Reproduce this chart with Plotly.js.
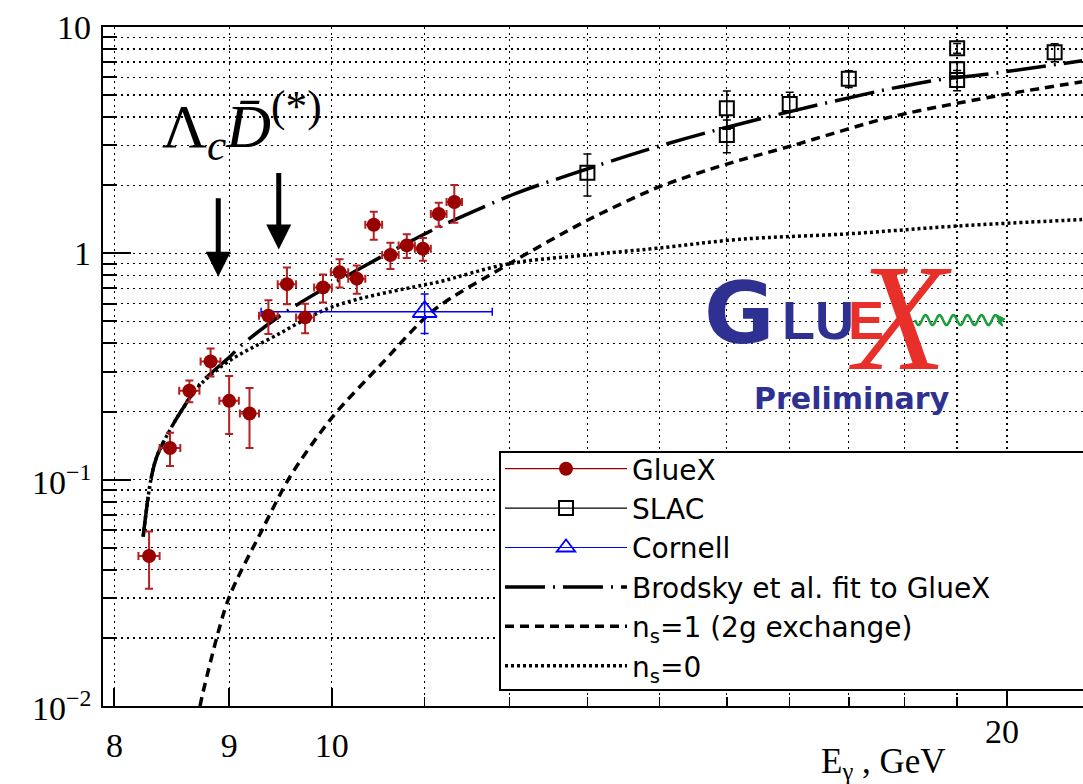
<!DOCTYPE html>
<html><head><meta charset="utf-8">
<script src="https://cdn.plot.ly/plotly-3.0.1.min.js"></script>
<style>html,body{margin:0;padding:0;background:#fff;overflow:hidden}#chart{width:1083px;height:784px}</style>
</head><body><div id="chart"></div>
<script>
// ---------- data ----------
const gluexE    = [8.29, 8.47, 8.64, 8.83, 9.00, 9.19, 9.37, 9.55, 9.73, 9.91, 10.08, 10.26, 10.44, 10.62, 10.80, 10.98, 11.16, 11.34];
const gluexXS   = [0.046, 0.138, 0.247, 0.333, 0.223, 0.196, 0.530, 0.731, 0.521, 0.707, 0.824, 0.773, 1.338, 0.983, 1.084, 1.048, 1.491, 1.685];
const gluexErrY = [0.013, 0.023, 0.027, 0.047, 0.064, 0.058, 0.090, 0.135, 0.078, 0.100, 0.117, 0.110, 0.190, 0.130, 0.130, 0.120, 0.180, 0.320];
const gluexErrX = [0.09, 0.09, 0.09, 0.09, 0.09, 0.09, 0.09, 0.09, 0.09, 0.09, 0.09, 0.09, 0.09, 0.09, 0.09, 0.09, 0.09, 0.09];

const slacE    = [13.0, 15.0, 15.0, 16.0, 17.0, 19.0, 19.0, 19.0, 21.0];
const slacXS   = [2.27, 4.37, 3.33, 4.57, 5.91, 8.05, 6.50, 5.83, 7.73];
const slacErrY = [0.48, 0.84, 0.55, 0.58, 0.50, 0.40, 0.50, 0.60, 0.70];

const cornellE       = [11.0];
const cornellXS      = [0.552];
const cornellErrY    = [0.11];
const cornellErrXlo  = [1.70];
const cornellErrXhi  = [0.79];

const brodskyE  = [8.24, 8.31, 8.36, 8.47, 8.56, 8.735, 9.006, 9.10, 9.51, 10.36, 11.0, 11.17, 12.08, 12.76, 13.95, 15.51, 18.34, 19.63, 21.6];
const brodskyXS = [0.056, 0.103, 0.128, 0.166, 0.198, 0.265, 0.349, 0.387, 0.540, 0.888, 1.217, 1.311, 1.84, 2.22, 2.95, 3.92, 5.69, 6.20, 7.09];

const ns1E  = [8.735, 8.76, 8.99, 9.31, 9.58, 10.01, 10.54, 11.10, 12.0, 13.0, 14.0, 15.0, 16.04, 17.78, 19.97, 21.6];
const ns1XS = [0.010, 0.0114, 0.0294, 0.060, 0.103, 0.19, 0.33, 0.56, 0.90, 1.40, 1.97, 2.48, 2.99, 4.02, 5.04, 5.73];

const ns0E  = [8.24, 8.31, 8.36, 8.47, 8.56, 8.735, 9.006, 9.42, 10.01, 10.98, 11.17, 12.0, 13.13, 13.95, 15.2, 17.0, 19.0, 21.6];
const ns0XS = [0.056, 0.103, 0.128, 0.166, 0.198, 0.262, 0.336, 0.428, 0.581, 0.724, 0.749, 0.90, 0.993, 1.052, 1.153, 1.22, 1.32, 1.41];

const arrowE   = [8.90, 9.47];
const arrowTip = [0.788, 1.041];

const xTickVals  = [8, 9, 10, 20];
const xTickText  = ['8', '9', '10', ''];
const xMinorVals = [11, 12, 13, 14, 15, 16, 17, 18, 19];
const yTickVals  = [0.01, 0.1, 1, 10];
const yTickText  = ['10<sup>\u22122</sup>', '10<sup>\u22121</sup>', '1', '10'];
const yMinorVals = [0.02,0.03,0.04,0.05,0.06,0.07,0.08,0.09,0.2,0.3,0.4,0.5,0.6,0.7,0.8,0.9,2,3,4,5,6,7,8,9];

// ---------- helpers ----------
const W = 1083, H = 784, ML = 103, MR = 0, MT = 27, MB = 78;
const PW = W - ML - MR, PH = H - MT - MB;
const px = v => (v - ML) / PW;           // pixel -> paper x
const py = v => (H - MB - v) / PH;       // pixel -> paper y
// points separated by gaps so that no connecting line is drawn, yet the legend shows a line
const sep = a => a.flatMap(v => [v, null]);
const sep0 = a => a.flatMap(v => [v, 0]);

const serif = 'Liberation Serif, Times New Roman, serif';
const sans = 'DejaVu Sans, Liberation Sans, Arial, sans-serif';
const RED = '#990000';

const traces = [
  { x: brodskyE, y: brodskyXS, mode: 'lines', name: 'Brodsky et al. fit to GlueX', legendrank: 4,
    line: { color: '#000', width: 3.5, dash: '40px,8px,2px,8px', shape: 'spline', smoothing: 1 } },
  { x: ns1E, y: ns1XS, mode: 'lines', name: 'n<sub>s</sub>=1 (2g exchange)', legendrank: 5,
    line: { color: '#000', width: 3.5, dash: '9px,6px', shape: 'spline', smoothing: 0.8 } },
  { x: ns0E, y: ns0XS, mode: 'lines', name: 'n<sub>s</sub>=0', legendrank: 6,
    line: { color: '#000', width: 3.5, dash: '3px,3px', shape: 'spline', smoothing: 1 } },
  { x: sep(cornellE), y: sep(cornellXS), mode: 'lines+markers', name: 'Cornell', legendrank: 3,
    line: { color: '#0000ff', width: 1.2 },
    marker: { symbol: 'triangle-up-open', size: 21, color: '#0000ff', line: { width: 1.8, color: '#0000ff' } },
    error_y: { type: 'data', array: sep0(cornellErrY), color: '#0000ff', thickness: 1.5, width: 4 },
    error_x: { type: 'data', symmetric: false, array: sep0(cornellErrXhi), arrayminus: sep0(cornellErrXlo), color: '#0000ff', thickness: 1.5, width: 4 } },
  { x: sep(slacE), y: sep(slacXS), mode: 'lines+markers', name: 'SLAC', legendrank: 2,
    line: { color: '#000', width: 1.2 },
    marker: { symbol: 'square-open', size: 14, color: '#000', line: { width: 2, color: '#000' } },
    error_y: { type: 'data', array: sep0(slacErrY), color: '#000', thickness: 1.5, width: 4 } },
  { x: sep(gluexE), y: sep(gluexXS), mode: 'lines+markers', name: 'GlueX', legendrank: 1,
    line: { color: RED, width: 1.2 },
    marker: { symbol: 'circle', size: 14, color: RED },
    error_y: { type: 'data', array: sep0(gluexErrY), color: '#b22222', thickness: 2, width: 4 },
    error_x: { type: 'data', array: sep0(gluexErrX), color: '#b22222', thickness: 2, width: 4 } }
];

// decorative wave of the logo
let wave = '';
for (let i = 0; i <= 88; i++) {
  const xx = 915 + i, yy = 320 + 5 * Math.sin(i / 14 * 2 * Math.PI);
  wave += (i === 0 ? 'M' : 'L') + px(xx).toFixed(5) + ',' + py(yy).toFixed(5);
}
const waveHead = 'M' + px(997).toFixed(5) + ',' + py(315).toFixed(5) + 'L' + px(1005).toFixed(5) + ',' + py(319).toFixed(5) +
                 'L' + px(999).toFixed(5) + ',' + py(324).toFixed(5) + 'Z';

const annotations = [
  // y tick labels
  ...yTickVals.map((v, i) => ({ xref: 'paper', yref: 'y', x: px(93), y: Math.log10(v), xanchor: 'right', yanchor: 'middle',
      showarrow: false, text: yTickText[i], font: { family: serif, size: 34, color: '#000' } })),
  // arrows
  ...arrowE.map((e, i) => ({ x: Math.log10(e), y: Math.log10(arrowTip[i]), xref: 'x', yref: 'y',
      text: '', showarrow: true, arrowhead: 2, arrowsize: 1, arrowwidth: 5, arrowcolor: '#000',
      ax: 0, ay: i === 0 ? -80 : -78 })),
  // label
  { xref: 'paper', yref: 'paper', x: px(160), y: py(125), xanchor: 'left', yanchor: 'middle', showarrow: false,
    text: '\u039B<sub><i>c</i></sub><i>D\u0304</i><sup>(*)</sup>', font: { family: serif, size: 62, color: '#000' } },
  // x tick label 20 (drawn higher, as in the reference)
  { xref: 'x', yref: 'paper', x: Math.log10(20), y: py(731), xanchor: 'center', yanchor: 'middle', xshift: -5, showarrow: false,
    text: '20', font: { family: serif, size: 34, color: '#000' } },
  // axis title
  { xref: 'paper', yref: 'paper', x: px(948), y: py(763), xanchor: 'right', yanchor: 'middle', showarrow: false,
    text: 'E<sub>\u03B3</sub> , GeV', font: { family: serif, size: 35, color: '#000' } },
  // logo
  { xref: 'paper', yref: 'paper', x: px(739), y: py(313), xanchor: 'center', yanchor: 'middle', showarrow: false,
    text: '<b>G</b>', font: { family: 'DejaVu Sans', size: 86, color: '#2e3192' } },
  { xref: 'paper', yref: 'paper', x: px(818), y: py(320), xanchor: 'center', yanchor: 'middle', showarrow: false,
    text: '<b>LU</b>', font: { family: 'Liberation Sans', size: 54, color: '#2e3192' } },
  { xref: 'paper', yref: 'paper', x: px(866), y: py(320), xanchor: 'center', yanchor: 'middle', showarrow: false,
    text: '<b>E</b>', font: { family: 'Liberation Sans', size: 54, color: '#e8302a' } },
  { xref: 'paper', yref: 'paper', x: px(900), y: py(318), xanchor: 'center', yanchor: 'middle', showarrow: false,
    text: '<i>X</i>', font: { family: serif, size: 152, color: '#e8302a' } },
  { xref: 'paper', yref: 'paper', x: px(852), y: py(398), xanchor: 'center', yanchor: 'middle', showarrow: false,
    text: '<b>Preliminary</b>', font: { family: 'DejaVu Sans', size: 30, color: '#2e3192' } }
];

const gridStyle = { showgrid: true, gridcolor: '#000', gridwidth: 1.3, griddash: '2px,4px' };

const layout = {
  width: W, height: H,
  margin: { l: ML, r: MR, t: MT, b: MB, autoexpand: false },
  paper_bgcolor: '#fff', plot_bgcolor: '#fff',
  showlegend: true,
  legend: { x: px(500), y: py(444), xanchor: 'left', yanchor: 'top', bgcolor: 'rgba(0,0,0,0)', borderwidth: 0,
    font: { family: sans, size: 28, color: '#000' }, itemwidth: 122, tracegroupgap: 0, traceorder: 'normal', itemclick: false },
  xaxis: { type: 'log', range: [Math.log10(7.907), Math.log10(21.62)],
    tickmode: 'array', tickvals: xTickVals, ticktext: xTickText,
    ticks: 'inside', ticklen: 18, tickwidth: 2, tickcolor: '#000', ticklabelstandoff: 8,
    tickfont: { family: serif, size: 34, color: '#000' },
    showline: true, linecolor: '#000', linewidth: 2, mirror: true, zeroline: false, ...gridStyle,
    minor: { tickmode: 'array', tickvals: xMinorVals, ticks: 'inside', ticklen: 9, tickwidth: 1.5, tickcolor: '#000', ...gridStyle } },
  yaxis: { type: 'log', range: [-2, 1],
    tickmode: 'array', tickvals: yTickVals, showticklabels: false,
    ticks: 'inside', ticklen: 28, tickwidth: 2, tickcolor: '#000',
    showline: true, linecolor: '#000', linewidth: 2, mirror: false, zeroline: false, ...gridStyle,
    minor: { tickmode: 'array', tickvals: yMinorVals, ticks: 'inside', ticklen: 14, tickwidth: 2, tickcolor: '#000', ...gridStyle } },
  annotations: annotations,
  shapes: [
    { type: 'rect', xref: 'paper', yref: 'paper', x0: px(500), x1: px(1100), y0: py(690), y1: py(452),
      fillcolor: '#fff', line: { color: '#000', width: 2 }, layer: 'above' },
    { type: 'path', xref: 'paper', yref: 'paper', path: wave, line: { color: '#1a9e3a', width: 2.5 } },
    { type: 'path', xref: 'paper', yref: 'paper', path: waveHead, fillcolor: '#1a9e3a', line: { color: '#1a9e3a', width: 1 } }
  ]
};

Plotly.newPlot('chart', traces, layout, { staticPlot: true, displayModeBar: false });
</script></body></html>
